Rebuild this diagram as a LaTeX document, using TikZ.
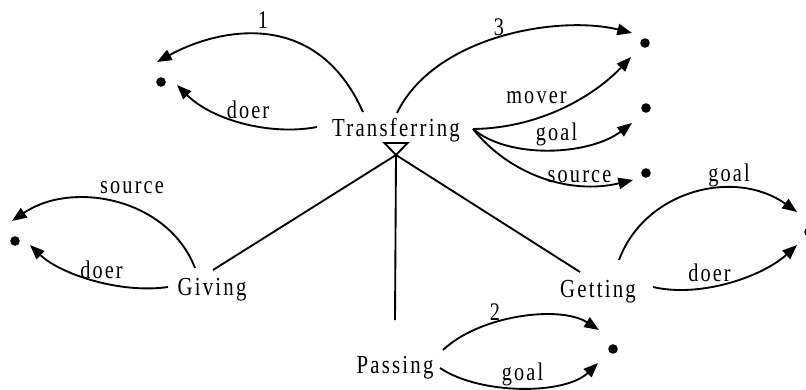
\documentclass[tikz,border=0pt]{standalone}
\usepackage{fontspec}
\setmainfont{Liberation Serif}
\newfontfamily\diagfont[FakeStretch=0.8,LetterSpace=8.5]{Liberation Serif}
\usetikzlibrary{arrows.meta}
\begin{document}
\begin{tikzpicture}[x=0.75pt,y=-0.75pt,
  conn/.style={line width=1.4pt, -{Triangle[length=11pt,width=8.5pt]}},
  plainline/.style={line width=1.4pt},
  concept/.style={font=\diagfont\fontsize{19.5}{23}\selectfont, inner sep=0pt, anchor=base},
  rolelbl/.style={font=\diagfont\fontsize{19}{23}\selectfont, inner sep=0pt, anchor=base},
  dotnode/.style={circle, fill=black, inner sep=0pt, minimum size=7.2pt}]
\useasboundingbox (0,0) rectangle (806,389);

% concepts
\node[concept] (T) at (396,136) {Transferring};
\node[concept] (G) at (212,295) {Giving};
\node[concept] (P) at (395,373) {Passing};
\node[concept] (get) at (598,297) {Getting};

% value dots
\node[dotnode] (d1) at (161,82) {};
\node[dotnode] (d2) at (645,43) {};
\node[dotnode] (d3) at (646,108) {};
\node[dotnode] (d4) at (646,173) {};
\node[dotnode] (d5) at (15,241) {};
\node[dotnode] (d6) at (809,232) {};
\node[dotnode] (d7) at (613,349) {};

% subsumption triangle and lines
\coordinate (apex) at ([shift={(0,19)}]T.base);
\draw[plainline] (apex) -- ++(-11.5,-12) -- ++(23,0) -- cycle;
\draw[plainline] (apex) -- ([shift={(1,-25)}]G.base);
\draw[plainline] (apex) -- ([shift={(0,-53)}]P.base);
\draw[plainline] (apex) -- ([shift={(-18,-25)}]get.base);

% Transferring roles
\draw[conn] ([shift={(-33,-24)}]T.base) .. controls (315,5) and (215,30) .. ([shift={(-4,-20)}]d1.center);
\node[rolelbl] (l1) at (263,28) {1};
\draw[conn] ([shift={(-79,-9)}]T.base) .. controls (270,136) and (212,120) .. ([shift={(16,3)}]d1.center);
\node[rolelbl] (l2) at (248,118) {doer};
\draw[conn] ([shift={(1,-23)}]T.base) .. controls (435,35) and (560,15) .. ([shift={(-13,-10)}]d2.center);
\node[rolelbl] (l3) at (499,35) {3};
\draw[conn] ([shift={(77,-7)}]T.base) .. controls (545,128) and (598,92) .. ([shift={(-14,14)}]d2.center);
\node[rolelbl] (l4) at (536.5,103) {mover};
\draw[conn] ([shift={(77,-7)}]T.base) .. controls (510,160) and (590,155) .. ([shift={(-14,15)}]d3.center);
\node[rolelbl] (l5) at (556.5,140) {goal};
\draw[conn] ([shift={(77,-7)}]T.base) .. controls (510,175) and (570,195) .. ([shift={(-13,7)}]d4.center);
\node[rolelbl] (l6) at (579.5,182) {source};

% Giving roles
\draw[conn] ([shift={(-17,-27)}]G.base) .. controls (168,198) and (72,180) .. ([shift={(-3,-20)}]d5.center);
\node[rolelbl] (l7) at (132,193) {source};
\draw[conn] ([shift={(-44,-8)}]G.base) .. controls (120,294) and (60,274) .. ([shift={(15,4)}]d5.center);
\node[rolelbl] (l8) at (101.5,278) {doer};

% Getting roles
\draw[conn] ([shift={(21,-37)}]get.base) .. controls (645,190) and (735,168) .. ([shift={(-12,-20)}]d6.center);
\node[rolelbl] (l9) at (729,181) {goal};
\draw[conn] ([shift={(55,-10)}]get.base) .. controls (700,298) and (762,277) .. ([shift={(-12,13)}]d6.center);
\node[rolelbl] (l10) at (709.5,281) {doer};

% Passing roles
\draw[conn] ([shift={(48,-23)}]P.base) .. controls (480,315) and (560,305) .. ([shift={(-14,-19)}]d7.center);
\node[rolelbl] (l11) at (495,320) {2};
\draw[conn] ([shift={(45,-5)}]P.base) .. controls (480,395) and (565,395) .. ([shift={(-15,14)}]d7.center);
\node[rolelbl] (l12) at (522.5,380) {goal};
\end{tikzpicture}
\end{document}
